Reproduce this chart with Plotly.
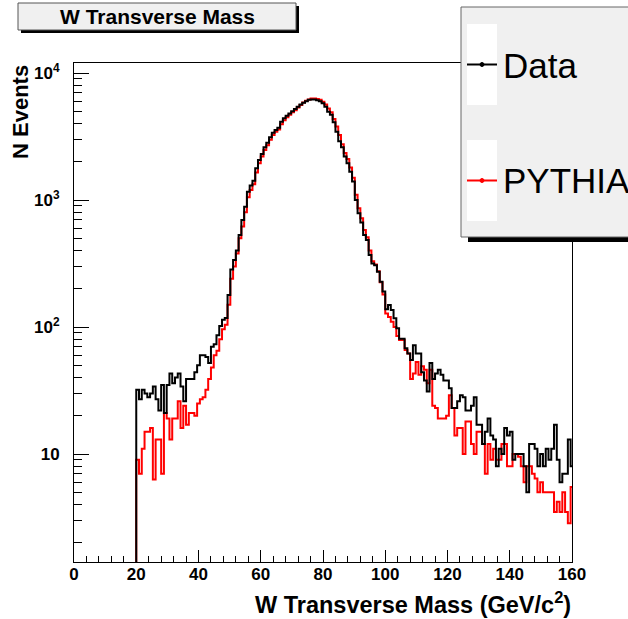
import numpy as np
import plotly.graph_objects as go

# binning of the histograms (GeV)
bin_width = 160 / 180
first_edge = 20.0

# Data, events per bin, from 20 GeV upward
data_counts = [
    32, 27, 32, 30, 28, 30, 34, 27, 22, 35, 21, 35, 43, 36, 40, 43, 34, 26, 39, 39,
    39, 44, 50, 60, 60, 58, 52, 70, 73, 86, 102, 114, 118, 179, 284, 337, 400, 530, 696, 886,
    1160, 1300, 1420, 1780, 2070, 2300, 2600, 2830, 3120, 3390, 3560, 3700, 4140, 4400, 4600, 4800, 5000, 5200, 5430, 5650,
    5840, 6000, 6150, 6200, 6200, 6100, 6000, 5770, 5430, 4960, 4700, 4100, 3450, 2900, 2600, 2200, 1950, 1670, 1400, 1000,
    785, 665, 530, 484, 369, 317, 307, 272, 227, 190, 138, 149, 136, 117, 98, 81, 81, 68, 62, 55,
    72, 62, 62, 44, 38, 31, 52, 39, 43, 46, 42, 38, 38, 33, 23, 23, 26, 29, 28, 22,
    22, 24, 28, 17, 17, 12, 15, 19, 14, 13, 8, 11, 10, 16, 14, 15, 9, 10, 10, 10,
    8, 5, 12, 12, 11, 8, 10, 8, 11, 9, 11, 17, 9, 6, 7, 7, 13, 8,
]

# PYTHIA prediction, same bins
pythia_counts = [
    9, 7, 11, 15, 15, 16, 6.3, 13, 13, 7, 21, 19, 13, 19, 19, 26, 16, 24, 17, 21,
    21, 20, 25, 27, 28, 32, 39, 48, 60, 65, 80, 96, 104, 150, 240, 300, 380, 500, 620, 800,
    1050, 1200, 1330, 1650, 1950, 2200, 2480, 2700, 2980, 3250, 3450, 3600, 3950, 4250, 4480, 4700, 4900, 5100, 5350, 5600,
    5850, 6050, 6200, 6300, 6300, 6250, 6150, 5950, 5650, 5250, 4900, 4350, 3800, 3250, 2750, 2350, 2100, 1800, 1500, 1100,
    860, 720, 580, 510, 400, 330, 310, 275, 225, 180, 128, 120, 110, 100, 85, 79, 79, 66, 62, 39,
    43, 53, 42, 49, 46, 36, 46, 24, 23, 19, 19, 19, 20, 29, 23, 14, 16, 16, 10, 18,
    18, 12, 10, 15, 15, 12, 7, 12, 9, 11, 9, 9, 12, 12, 8, 8, 10, 10, 9.5, 8,
    6, 8, 8, 7, 6.4, 5, 6, 5, 5, 5, 5, 3.5, 4.2, 3.5, 5, 3.5, 2.85, 5.5,
]

x_ticks = [0, 20, 40, 60, 80, 100, 120, 140, 160]
y_ticks = [10, 100, 1000, 10000]
y_tick_text = ["<b>10</b>", "<b>10<sup>2</sup></b>", "<b>10<sup>3</sup></b>", "<b>10<sup>4</sup></b>"]
y_minor = [m * 10 ** e for e in range(0, 5) for m in range(2, 10)]

W, H = 628, 619
L, R, T, B = 74, 572, 63, 562


def px(x):
    return (x - L) / (R - L)


def py(y):
    return (B - y) / (B - T)


def steps(counts):
    edges = first_edge + bin_width * np.arange(len(counts) + 1)
    xs = np.concatenate([[0.0], edges])
    ys = np.concatenate([[0.1], counts, [counts[-1]]])
    return xs, ys


fig = go.Figure()
for counts, colour in [(pythia_counts, "#ff0000"), (data_counts, "#000000")]:
    xs, ys = steps(counts)
    fig.add_trace(go.Scatter(x=xs, y=ys, mode="lines", line=dict(color=colour, width=2, shape="hv"),
                             hoverinfo="skip"))

font = "Liberation Sans, Arial, sans-serif"

fig.update_layout(
    width=W, height=H,
    margin=dict(l=L, r=W - R, t=T, b=H - B),
    paper_bgcolor="white", plot_bgcolor="white",
    showlegend=False,
    font=dict(family=font, color="black"),
    xaxis=dict(range=[0, 160], showline=True, linecolor="black", linewidth=1, mirror=True,
               ticks="inside", ticklen=12, tickcolor="black", tickvals=x_ticks,
               ticktext=[f"<b>{v}</b>" for v in x_ticks], tickfont=dict(size=17),
               showgrid=False, zeroline=False, ticklabelstandoff=-3,
               minor=dict(ticks="inside", ticklen=6, dtick=4, tickcolor="black", showgrid=False)),
    yaxis=dict(type="log", range=[0.1496, 4.079], showline=True, linecolor="black", linewidth=1, mirror=True,
               ticks="inside", ticklen=15, tickcolor="black", tickvals=y_ticks, ticktext=y_tick_text,
               tickfont=dict(size=17), showgrid=False, zeroline=False, ticklabelstandoff=10,
               minor=dict(ticks="inside", ticklen=8, tickmode="array", tickvals=y_minor,
                          tickcolor="black", showgrid=False)),
)

shapes = []
# title box with shadow
shapes.append(dict(type="rect", xref="paper", yref="paper", x0=px(21), x1=px(299), y0=py(33), y1=py(6),
                   fillcolor="black", line=dict(width=0)))
shapes.append(dict(type="rect", xref="paper", yref="paper", x0=px(18), x1=px(296), y0=py(30), y1=py(3),
                   fillcolor="#f0f0f0", line=dict(color="#555555", width=1)))
# legend box with shadow
shapes.append(dict(type="rect", xref="paper", yref="paper", x0=px(468), x1=px(660), y0=py(242), y1=py(12),
                   fillcolor="black", line=dict(width=0)))
shapes.append(dict(type="rect", xref="paper", yref="paper", x0=px(461), x1=px(650), y0=py(237), y1=py(7),
                   fillcolor="#f0f0f0", line=dict(color="#666666", width=1)))
for top, bot, colour in [(24, 105, "black"), (140, 221, "#ff0000")]:
    mid = (top + bot) / 2
    shapes.append(dict(type="rect", xref="paper", yref="paper", x0=px(467), x1=px(497), y0=py(bot), y1=py(top),
                       fillcolor="white", line=dict(width=0)))
    shapes.append(dict(type="line", xref="paper", yref="paper", x0=px(467), x1=px(497), y0=py(mid), y1=py(mid),
                       line=dict(color=colour, width=2)))
    shapes.append(dict(type="circle", xref="paper", yref="paper", x0=px(480), x1=px(484),
                       y0=py(mid + 2), y1=py(mid - 2), fillcolor=colour, line=dict(color=colour, width=1)))
fig.update_layout(shapes=shapes)

annotations = [
    dict(text="<b>W Transverse Mass</b>", x=px(157), y=py(17), xref="paper", yref="paper",
         showarrow=False, font=dict(size=21), xanchor="center", yanchor="middle"),
    dict(text="Data", x=px(501), y=py(65), xref="paper", yref="paper", showarrow=False,
         font=dict(size=35), xanchor="left", yanchor="middle"),
    dict(text="PYTHIA", x=px(501), y=py(180), xref="paper", yref="paper", showarrow=False,
         font=dict(size=35), xanchor="left", yanchor="middle"),
    dict(text="<b>N Events</b>", x=px(20), y=py(63), xref="paper", yref="paper", showarrow=False,
         textangle=-90, font=dict(size=22), xanchor="center", yanchor="top"),
    dict(text="<b>W Transverse Mass (GeV/c<sup>2</sup>)</b>", x=px(573), y=py(603), xref="paper", yref="paper",
         showarrow=False, font=dict(size=23.5), xanchor="right", yanchor="middle"),
]
fig.update_layout(annotations=annotations)

# drop the page's default body margin so the figure sits at the window's corner
fig.write_html("out.html", config={"displayModeBar": False},
               post_script="document.body.style.margin='0';")
